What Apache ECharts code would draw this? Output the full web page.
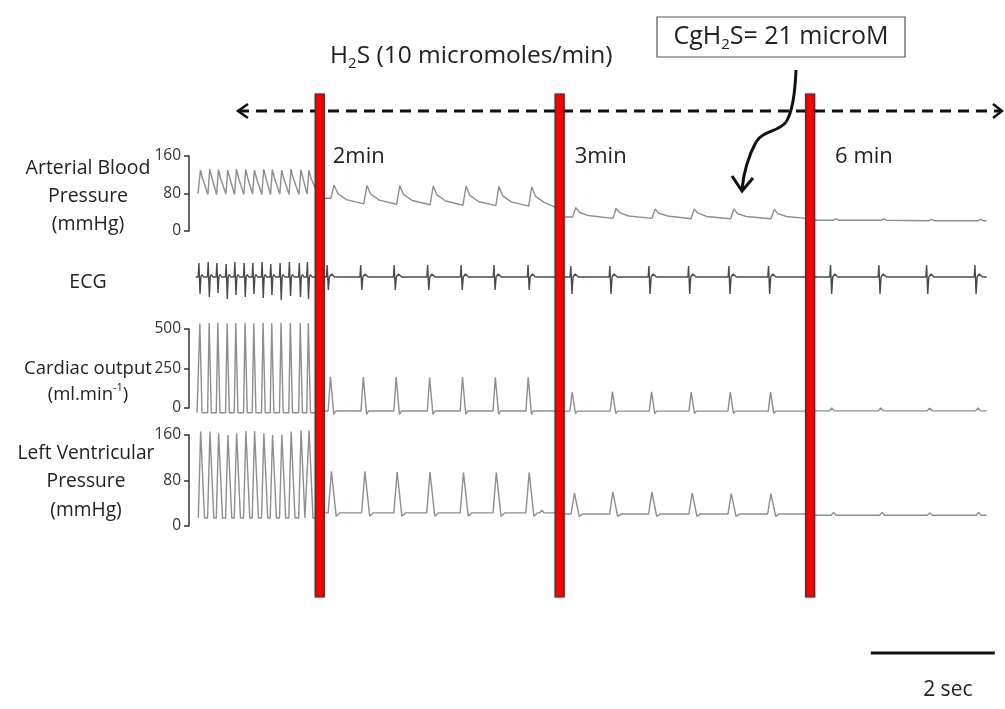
<!DOCTYPE html>
<html>
<head>
<meta charset="utf-8">
<title>H2S infusion traces</title>
<script src="https://cdn.jsdelivr.net/npm/echarts@6.0.0/dist/echarts.min.js"></script>
<style>
html,body{margin:0;padding:0;background:#fff;}
#chart{width:1005px;height:709px;}
</style>
</head>
<body>
<div id="chart"></div>
<script>
const FONT = '"Open Sans", "Noto Sans", sans-serif';
const TIME_MIN = 0, TIME_MAX = 13.1;          // seconds
const EVENT_TIMES = [2.11, 5.98, 10.02];
const EVENT_LABELS = ['2min', '3min', '6 min'];
const SCALE_BAR = [11.0, 13.0];
const SCALE_LABEL = '2 sec';

const ABP_AXIS = [0, 160, 80];
const ECG_AXIS = [-2.5, 2.5];
const CO_AXIS = [0, 500, 250];
const LVP_AXIS = [0, 160, 80];

// ---------- Arterial blood pressure (mmHg) ----------
// control: [t, trough before, peak, notch]
const abpCtrl = [[0.19,79,130,112],[0.34,78,132,113],[0.48,78,131,112],[0.63,79,130,112],[0.77,78,132,113],[0.92,78,131,112],
  [1.06,79,130,112],[1.21,78,132,113],[1.35,78,131,112],[1.50,79,130,112],[1.65,78,132,113],[1.81,78,131,112],[1.94,79,130,112]];
// 2 & 3 min: [t, trough before, peak, notch, mid-decay]
const abp2 = [[2.34,70,98,80,67],[2.87,58,97,79,66],[3.40,57,97,78,65],[3.94,56,96,77,64],[4.47,55,96,76,63],[5.00,54,95,75,62],[5.53,53,94,74,61]];
const abp3 = [[6.24,30,50,40,33],[6.89,27,48,39,32],[7.52,27,47,38,32],[8.15,26,47,38,31],[8.79,26,47,37,31],[9.44,26,46,37,31]];
// 6 min: [t, base, bump]
const abp6 = [[10.44,23,26],[11.21,23,26],[11.98,22,25],[12.77,22,25]];
const abpEnds = [[[0.145,80],[2.07,82]],[[2.10,70],[5.92,50]],[[6.02,30],[9.95,27]],[[10.05,23],[12.87,22]]];

// ---------- ECG (arbitrary units) : [t, R, S] ----------
const ecgCtrl = [[0.16,1.4,-1.7],[0.31,1.5,-2.0],[0.45,1.4,-1.6],[0.60,1.3,-2.2],[0.74,1.5,-1.8],[0.89,1.4,-2.0],[1.03,1.4,-1.7],
  [1.18,1.5,-2.1],[1.32,1.3,-1.8],[1.47,1.4,-2.3],[1.62,1.5,-1.9],[1.78,1.4,-2.0],[1.91,1.5,-2.2]];
const ecg2 = [[2.23,1.2,-1.3],[2.77,1.2,-1.3],[3.31,1.2,-1.3],[3.85,1.2,-1.3],[4.39,1.2,-1.3],[4.92,1.2,-1.3],[5.47,1.2,-1.3]];
const ecg3 = [[6.16,1.1,-1.7],[6.79,1.1,-1.7],[7.42,1.1,-1.7],[8.06,1.1,-1.7],[8.71,1.1,-1.7],[9.35,1.1,-1.7]];
const ecg6 = [[10.35,1.2,-1.7],[11.13,1.2,-1.7],[11.90,1.2,-1.7],[12.68,1.2,-1.7]];
const ecgEnds = [[[0.11,0],[2.07,0]],[[2.10,0],[5.92,0]],[[6.02,0],[9.95,0]],[[10.05,0],[12.87,0]]];

// ---------- Cardiac output (ml/min) : [t, base, peak, dip] ----------
const coCtrl = [[0.18,-30,535,-30],[0.33,-30,538,-30],[0.47,-30,540,-30],[0.62,-30,536,-30],[0.76,-30,538,-30],[0.91,-30,540,-30],[1.05,-30,537,-30],
  [1.20,-30,538,-30],[1.34,-30,536,-30],[1.49,-30,540,-30],[1.64,-30,538,-30],[1.80,-30,537,-30],[1.93,-30,536,-30]];
const co2 = [[2.29,-19,197,-40],[2.82,-19,196,-40],[3.35,-19,196,-40],[3.89,-19,195,-40],[4.42,-19,196,-40],[4.95,-19,195,-40],[5.48,-19,194,-40]];
const co3 = [[6.19,-20,100,-35],[6.84,-20,104,-35],[7.47,-20,102,-35],[8.11,-20,100,-35],[8.74,-20,100,-35],[9.39,-20,101,-35]];
const co6 = [[10.37,-18,0],[11.16,-18,0],[11.95,-18,-2],[12.73,-18,0]];
const coEnds = [[[0.13,-30],[2.07,-30]],[[2.10,-19],[5.92,-19]],[[6.02,-20],[9.95,-20]],[[10.05,-18],[12.87,-18]]];

// ---------- Left ventricular pressure (mmHg) : [t, base, peak, dip] ----------
const lvpCtrl = [[0.20,14,166,14],[0.35,14,166,14],[0.49,14,163,14],[0.64,14,160,14],[0.78,14,163,14],[0.93,14,167,14],[1.07,14,167,14],
  [1.22,14,163,14],[1.36,14,160,14],[1.51,14,161,14],[1.66,14,166,14],[1.82,14,168,14],[1.95,14,168,14]];
const lvp2 = [[2.31,23,96,17],[2.85,23,96,17],[3.37,23,95,17],[3.90,23,95,17],[4.44,23,94,17],[4.97,23,94,17],[5.50,23,94,17]];
const lvp2Tail = [[5.66,23],[5.69,28],[5.73,23]];
const lvp3 = [[6.23,21,58,17],[6.85,21,60,17],[7.48,21,60,17],[8.13,21,58,17],[8.76,21,57,17],[9.40,21,57,17]];
const lvp6 = [[10.40,19,24],[11.18,19,24],[11.95,19,23],[12.74,19,24]];
const lvpEnds = [[[0.15,14],[2.07,14]],[[2.10,23],[5.92,23]],[[6.02,21],[9.95,21]],[[10.05,19],[12.87,19]]];

// ---------- waveform vertex builders (shape timing only) ----------
function build(ends, beats, shape, tail) {
  const pts = [ends[0]];
  beats.forEach(b => shape(b).forEach(p => pts.push(p)));
  (tail || []).forEach(p => pts.push(p));
  pts.push(ends[1]);
  return pts;
}
const abpFast = ([t,b,p,n]) => [[t-0.035,b],[t-0.005,p],[t+0.03,n]];
const abpSlow = ([t,b,p,n,m]) => [[t-0.05,b],[t,p],[t+0.06,n],[t+0.2,m]];
const bump = ([t,b,p]) => [[t-0.04,b],[t,p],[t+0.04,b]];
const ecgFast = ([t,r,s]) => [[t-0.012,0],[t,r],[t+0.018,s],[t+0.032,0],[t+0.05,0.25],[t+0.075,0]];
const ecgSlow = ([t,r,s]) => [[t-0.012,0],[t,r],[t+0.018,s],[t+0.035,0],[t+0.07,0.3],[t+0.12,0]];
const coFast = ([t,b,p,d]) => [[t-0.03,b],[t-0.005,p],[t+0.005,p],[t+0.03,d]];
const coSlow = ([t,b,p,d]) => [[t-0.045,b],[t-0.008,p],[t+0.008,p],[t+0.045,d],[t+0.075,b]];
const lvpFast = ([t,b,p,d]) => [[t-0.05,b],[t-0.012,p],[t+0.012,p],[t+0.05,d]];
const lvpSlow = ([t,b,p,d]) => [[t-0.065,b],[t-0.012,p],[t+0.012,p],[t+0.065,d],[t+0.12,b]];

const TRACE = '#8e8e8e', ECG_COL = '#4a4a4a';
const series = [];
function add(idx, data, color) {
  series.push({type:'line', xAxisIndex:idx, yAxisIndex:idx, data, symbol:'none', showSymbol:false,
    clip:false, silent:true, animation:false, lineStyle:{color, width:1.4}});
}
add(0, build(abpEnds[0], abpCtrl, abpFast), TRACE);
add(0, build(abpEnds[1], abp2, abpSlow), TRACE);
add(0, build(abpEnds[2], abp3, abpSlow), TRACE);
add(0, build(abpEnds[3], abp6, bump), TRACE);
add(1, build(ecgEnds[0], ecgCtrl, ecgFast), ECG_COL);
add(1, build(ecgEnds[1], ecg2, ecgSlow), ECG_COL);
add(1, build(ecgEnds[2], ecg3, ecgSlow), ECG_COL);
add(1, build(ecgEnds[3], ecg6, ecgSlow), ECG_COL);
add(2, build(coEnds[0], coCtrl, coFast), TRACE);
add(2, build(coEnds[1], co2, coSlow), TRACE);
add(2, build(coEnds[2], co3, coSlow), TRACE);
add(2, build(coEnds[3], co6, bump), TRACE);
add(3, build(lvpEnds[0], lvpCtrl, lvpFast), TRACE);
add(3, build(lvpEnds[1], lvp2, lvpSlow, lvp2Tail), TRACE);
add(3, build(lvpEnds[2], lvp3, lvpSlow), TRACE);
add(3, build(lvpEnds[3], lvp6, bump), TRACE);

const axisCol = '#333';
function yAx(idx, a) {
  return {type:'value', gridIndex:idx, min:a[0], max:a[1], interval:a[2],
    axisLine:{show:true, lineStyle:{color:axisCol, width:1.5}},
    axisTick:{show:true, length:5, lineStyle:{color:axisCol, width:1.5}},
    axisLabel:{fontSize:15.5, color:axisCol, margin:8, fontFamily:FONT},
    splitLine:{show:false}};
}
const grids = [
  {left:189, right:4, top:156, height:75},
  {left:189, right:4, top:252, height:50},
  {left:189, right:4, top:329, height:79},
  {left:189, right:4, top:435, height:91}
];
const option = {
  backgroundColor:'#fff',
  animation:false,
  grid: grids,
  xAxis: grids.map((g,i)=>({type:'value', gridIndex:i, min:TIME_MIN, max:TIME_MAX, show:false})),
  yAxis: [yAx(0, ABP_AXIS), {type:'value', gridIndex:1, min:ECG_AXIS[0], max:ECG_AXIS[1], show:false}, yAx(2, CO_AXIS), yAx(3, LVP_AXIS)],
  series
};
const chart = echarts.init(document.getElementById('chart'));
chart.setOption(option);

const px = t => chart.convertToPixel({xAxisIndex:0}, t);
const txt = '#222';
const g = [];
function text(x, y, t, size, align, extra) {
  g.push(Object.assign({type:'text', x, y, z:120, style:Object.assign({text:t, fontFamily:FONT, fontSize:size, fill:txt,
    align:align || 'center', verticalAlign:'middle'}, extra || {})}));
}
// Axis names
text(88, 196, 'Arterial Blood\nPressure\n(mmHg)', 19.5, 'center', {lineHeight:28});
text(88, 282, 'ECG', 19.5);
text(88, 382, '{a|Cardiac output}\n{a|(ml.min}{s|-1}{a|)}', 18.5, 'center', {rich:{a:{fontSize:18.5, lineHeight:26, fontFamily:FONT, fill:txt}, s:{fontSize:11, lineHeight:14, verticalAlign:'top', fontFamily:FONT, fill:txt}}});
text(86, 482, 'Left Ventricular\nPressure\n(mmHg)', 19.2, 'center', {lineHeight:28.5});

// Event bars and labels
const LABEL_DX = [13, 15, 25];
EVENT_TIMES.forEach((t, i) => {
  const x = px(t);
  g.push({type:'rect', z:110, shape:{x:x-4.5, y:94, width:9, height:503}, style:{fill:'#ff0000', stroke:'#3a3a3a', lineWidth:1.2, shadowBlur:2, shadowColor:'rgba(0,0,0,0.3)'}});
  text(x + LABEL_DX[i], 157, EVENT_LABELS[i], 22, 'left');
});

// Infusion label
text(330, 56, '{a|H}{s|2}{a|S (10 micromoles/min)}', 24.5, 'left', {rich:{a:{fontSize:24.5, lineHeight:30, fontFamily:FONT, fill:txt}, s:{fontSize:15, lineHeight:14, verticalAlign:'bottom', fontFamily:FONT, fill:txt}}});

// Concentration box
g.push({type:'rect', z:105, shape:{x:657, y:17, width:248, height:40}, style:{fill:'#fff', stroke:'#555', lineWidth:1.2}});
text(781, 37, '{a|CgH}{s|2}{a|S= 21 microM}', 25, 'center', {rich:{a:{fontSize:25, lineHeight:30, fontFamily:FONT, fill:txt}, s:{fontSize:15, lineHeight:14, verticalAlign:'bottom', fontFamily:FONT, fill:txt}}});

// Dashed time arrow
const arrowY = 111;
g.push({type:'line', z:100, shape:{x1:238, y1:arrowY, x2:1001, y2:arrowY}, style:{stroke:'#111', lineWidth:3.2, lineDash:[11,7]}});
g.push({type:'polyline', z:100, shape:{points:[[248,104],[238,arrowY],[248,118]]}, style:{stroke:'#111', lineWidth:2.5, fill:null}});
g.push({type:'polyline', z:100, shape:{points:[[993,104],[1002,arrowY],[993,118]]}, style:{stroke:'#111', lineWidth:2.5, fill:null}});

// Curved arrow from box
const cs = {stroke:'#111', lineWidth:3, fill:null};
g.push({type:'bezierCurve', z:115, shape:{x1:796, y1:70, cpx1:795, cpy1:95, cpx2:792, cpy2:113, x2:786, y2:122}, style:cs});
g.push({type:'bezierCurve', z:115, shape:{x1:786, y1:122, cpx1:779, cpy1:132, cpx2:763, cpy2:130, x2:756, y2:142}, style:cs});
g.push({type:'bezierCurve', z:115, shape:{x1:756, y1:142, cpx1:749, cpy1:155, cpx2:744, cpy2:170, x2:742, y2:189}, style:cs});
g.push({type:'polyline', z:115, shape:{points:[[732,176],[742,191],[753,178]]}, style:cs});

// Scale bar
const sx1 = px(SCALE_BAR[0]), sx2 = px(SCALE_BAR[1]);
g.push({type:'line', z:100, shape:{x1:sx1, y1:653, x2:sx2, y2:653}, style:{stroke:'#111', lineWidth:3}});
text((sx1+sx2)/2 + 15, 690, SCALE_LABEL, 21);

chart.setOption({graphic: g});
</script>
</body>
</html>
